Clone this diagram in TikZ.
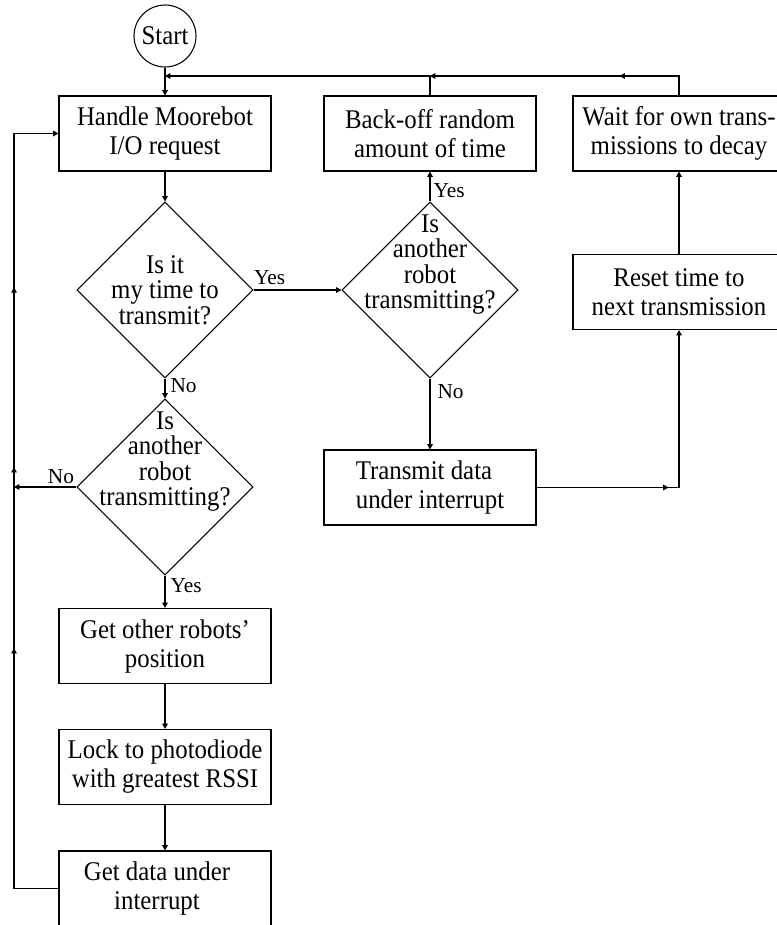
\documentclass[tikz,border=0pt]{standalone}
\usepackage{fontspec}
\setmainfont{Liberation Serif}[FakeStretch=0.92]
\newfontfamily\tagfont{Liberation Serif}
\usetikzlibrary{arrows.meta,shapes.geometric,decorations.markings}

\begin{document}
\begin{tikzpicture}[x=0.75pt,y=-0.75pt,
  >={Triangle[length=4pt,width=4.2pt]},
  flow/.style={line width=0.8pt},
  stepbox/.style={draw,line width=0.8pt,rectangle,minimum width=159pt,minimum height=56.25pt,
    inner sep=0pt,align=center,font=\fontsize{20.25pt}{21.75pt}\selectfont},
  decision/.style={draw,line width=0.8pt,diamond,minimum width=132pt,minimum height=132pt,inner sep=0pt},
  dtext/.style={align=center,inner sep=0pt,font=\fontsize{20.25pt}{19pt}\selectfont},
  terminal/.style={draw,circle,line width=0.8pt,minimum size=46.5pt,inner sep=0pt,
    font=\fontsize{20.25pt}{21.75pt}\selectfont},
  tag/.style={inner sep=0pt,font=\tagfont\fontsize{16pt}{16pt}\selectfont},
  midarrow/.style={postaction={decorate,decoration={markings,mark=at position #1 with {\arrow{>}}}}},
]
\useasboundingbox (0,0) rectangle (776,925);

% process boxes and decisions
\node[terminal] (start) at (165,36) {Start};
\node[stepbox] (handle) at (165,133.5) {Handle Moorebot\\I/O request};
\node[stepbox] (backoff) at (430,133.5) {Back-off random\\amount of time};
\node[stepbox] (wait) at (679,133.5) {Wait for own trans-\\missions to decay};

\node[decision] (d1) at (165,290) {};
\node[dtext] at (d1) {Is it\\my time to\\transmit?};
\node[decision] (d2) at (430,290) {};
\node[dtext,yshift=19pt] at (d2) {Is\\another\\robot\\transmitting?};
\node[stepbox] (reset) at (679,292) {Reset time to\\next transmission};

\node[stepbox] (transmit) at (430,487.5) {Transmit data\rule{9pt}{0pt}\\under interrupt};
\node[decision] (d3) at (165,487) {};
\node[dtext,yshift=19pt] at (d3) {Is\\another\\robot\\transmitting?};

\node[stepbox] (getother) at (165,646) {Get other robots'\\position};
\node[stepbox] (lock) at (165,767) {Lock to photodiode\\with greatest RSSI};
\node[stepbox] (getdata) at (165,888.5) {Get data under\rule{12pt}{0pt}\\interrupt\rule{12pt}{0pt}};

% bends of the return lines
\coordinate (jw) at (679,76);
\coordinate (jb) at (430,76);
\coordinate (js) at (165,76);
\coordinate (r0) at (14,888.5);
\coordinate (r1) at (14,133.5);

% main flow
\draw[flow,->] (start) -- (handle);
\draw[flow,->] (handle) -- (d1);
\draw[flow,->] (d1.east) -- node[tag,pos=0,anchor=base west,yshift=4.5pt] {Yes} (d2.west);
\draw[flow,->] (d1.south) -- node[tag,pos=0,anchor=base west,xshift=3.75pt,yshift=-10.5pt] {No} (d3.north);
\draw[flow,->] (d2.north) -- node[tag,pos=0,anchor=base west,xshift=2.25pt,yshift=3pt] {Yes} (backoff.south);
\draw[flow,->] (d2.south) -- node[tag,pos=0,anchor=base west,xshift=5.25pt,yshift=-15pt] {No} (transmit.north);
\draw[flow,->] (d3.south) -- node[tag,pos=0,anchor=base west,xshift=3.75pt,yshift=-12.75pt] {Yes} (getother.north);
\draw[flow,->] (d3.west) -- node[tag,pos=0,anchor=base east,xshift=-1.5pt,yshift=3pt] {No} (d3.west -| r0);
\draw[flow,->] (getother) -- (lock);
\draw[flow,->] (lock) -- (getdata);
\draw[flow,->,midarrow=0.44] (transmit.east) -| (reset.south);
\draw[flow,->] (reset) -- (wait);

% return lines
\draw[flow,->,midarrow=0.294] (wait.north) -- (jw) -- (jb);
\draw[flow,->] (backoff.north) -- (jb) -- (js);
\draw[flow,->,midarrow=0.3375,midarrow=0.552,midarrow=0.765]
  (getdata.west) -- (r0) -- (r1) -- (handle.west);
\end{tikzpicture}
\end{document}
